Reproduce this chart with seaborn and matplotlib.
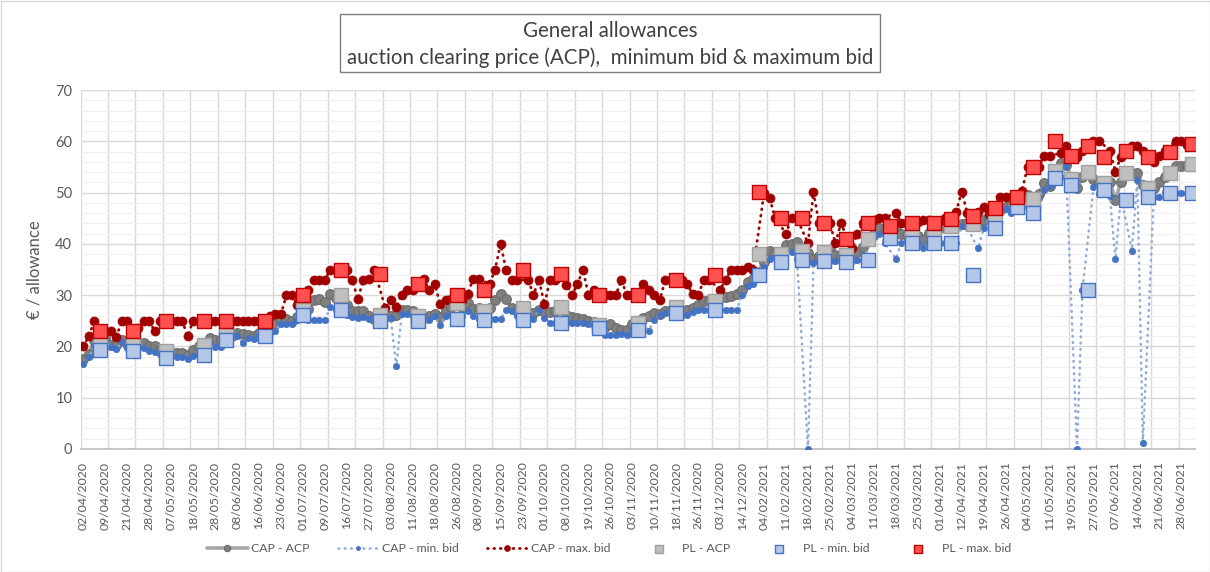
"""
General allowances: ACP, min and max bid (CAP and PL auctions)
"""
import numpy as np
import pandas as pd
import matplotlib.pyplot as plt
from matplotlib.patches import Rectangle
import seaborn as sns

na = np.nan

# one label every 4 auction days
tick_dates = ["02/04/2020", "09/04/2020", "21/04/2020", "28/04/2020", "07/05/2020", "18/05/2020",
              "28/05/2020", "08/06/2020", "16/06/2020", "23/06/2020", "01/07/2020", "09/07/2020",
              "16/07/2020", "27/07/2020", "03/08/2020", "11/08/2020", "18/08/2020", "26/08/2020",
              "08/09/2020", "15/09/2020", "23/09/2020", "01/10/2020", "08/10/2020", "19/10/2020",
              "26/10/2020", "03/11/2020", "10/11/2020", "18/11/2020", "26/11/2020", "03/12/2020",
              "14/12/2020", "04/02/2021", "11/02/2021", "18/02/2021", "25/02/2021", "04/03/2021",
              "11/03/2021", "18/03/2021", "25/03/2021", "01/04/2021", "12/04/2021", "19/04/2021",
              "26/04/2021", "04/05/2021", "11/05/2021", "19/05/2021", "27/05/2021", "07/06/2021",
              "14/06/2021", "21/06/2021", "28/06/2021"]

# CAP auctions (na on days with only a PL auction)
cap_acp = [17.5, 18.6, 21.3, na, 21.6, 20.3, 20.3, 21.3, 20.5, na,
           20.5, 20.6, 20.1, 20.0, 19.4, na, 19.0, 18.8, 18.8, 18.4,
           19.4, 20.1, na, 21.6, 21.2, 21.3, na, 22.0, 22.7, 22.5,
           22.3, 22.0, 22.7, na, 23.6, 24.4, 24.9, 25.3, 24.9, 25.8,
           na, 27.3, 29.0, 29.3, 28.6, 30.2, 29.4, na, 28.1, 26.9,
           27.0, 27.0, 25.9, 25.4, na, 25.7, 26.0, 26.1, 27.2, 27.1,
           27.0, na, 25.5, 26.0, 26.3, 25.8, 27.0, 27.6, na, 27.6,
           28.4, 27.3, 27.4, na, 27.5, 29.0, 30.3, 29.2, 27.5, 27.0,
           na, 26.8, 26.5, 27.2, 27.0, 26.8, 27.0, na, 26.1, 25.7,
           25.5, 25.3, 25.0, 24.7, na, 23.8, 24.4, 23.6, 23.2, 23.2,
           24.4, na, 25.5, 26.0, 26.6, 26.3, 26.9, 27.2, na, 27.2,
           27.1, 27.4, 28.1, 28.8, 29.0, na, 29.4, 29.6, 29.8, 30.3,
           31.1, 32.6, 33.2, na, 36.5, 38.6, 38.2, na, 39.7, 40.0,
           40.4, na, 38.2, 37.1, 37.6, na, 38.8, 37.8, 37.6, na,
           37.5, 38.4, 39.4, na, 42.0, 43.0, 42.3, na, 42.7, 41.9,
           41.7, na, 41.5, 40.8, 42.2, na, 43.0, 43.2, na, 43.5,
           43.9, 44.0, na, 44.3, 44.7, 45.3, na, 46.6, 47.1, 47.4,
           na, 49.1, 49.5, na, 49.7, 51.9, 51.2, na, 55.7, 55.4,
           na, 50.8, 53.1, na, 52.6, 52.1, na, 52.1, 48.6, 52.1,
           na, 53.8, 53.8, 51.5, na, 50.8, 52.1, 53.1, na, 55.1,
           55.2, 55.4, na]

cap_min = [16.6, 17.9, 20.0, na, 21.0, 19.9, 19.5, 20.8, 19.7, na,
           19.7, 19.7, 19.2, 18.9, 18.6, na, 18.2, 18.0, 18.0, 17.6,
           18.2, 18.4, na, 20.8, 19.9, 19.9, na, 22.2, 22.0, 20.7,
           21.7, 21.5, 22.2, na, 22.6, 23.1, 24.3, 24.3, 24.3, 25.1,
           na, 25.1, 25.1, 25.1, 25.1, 27.7, 27.1, na, 26.1, 25.8,
           25.6, 25.8, 25.3, 25.6, na, 25.6, 25.6, 16.1, 26.3, 26.3,
           25.9, na, 25.9, 25.1, 25.9, 24.1, 25.9, 26.2, na, 25.9,
           26.9, 26.0, 25.4, na, 25.3, 25.3, 25.3, 27.2, 26.9, 25.9,
           na, 25.9, 25.4, 27.2, 25.6, 24.6, 24.6, na, 24.5, 24.6,
           24.5, 24.5, 24.3, 24.0, na, 22.2, 22.2, 22.2, 22.4, 22.2,
           23.3, na, 24.7, 23.1, 25.2, 26.2, 26.5, 26.8, na, 26.2,
           26.2, 26.8, 27.1, 27.1, 27.1, na, 27.1, 27.1, 27.1, 27.1,
           30.1, 31.7, 32.2, na, 35.5, 37.1, 37.5, na, 38.8, 38.4,
           37.1, na, 0.0, 36.2, 36.5, na, 36.6, 36.6, 36.6, na,
           36.6, 36.8, 36.8, na, 41.4, 42.0, 40.1, na, 37.1, 40.2,
           40.7, na, 40.2, 39.1, 40.1, na, 40.1, 40.1, na, 40.1,
           43.4, 43.2, na, 39.1, 43.0, 45.0, na, 46.7, 46.7, 46.0,
           na, 47.1, 48.6, na, 48.9, 50.5, 51.2, na, 53.1, 55.1,
           na, 0.0, 31.0, na, 51.0, 49.7, na, 49.3, 37.0, 49.3,
           na, 38.7, 52.5, 1.2, na, 49.1, 49.1, 50.2, na, 50.0,
           50.0, 50.0, na]

cap_max = [20.0, 22.0, 25.0, na, 23.0, 23.0, 21.8, 25.0, 25.0, na,
           23.5, 25.0, 25.0, 23.0, 25.0, na, 25.0, 25.0, 25.0, 22.0,
           25.0, 25.0, na, 25.0, 25.0, 25.0, na, 25.0, 25.0, 25.0,
           25.0, 25.0, 25.0, na, 26.0, 26.3, 26.3, 30.0, 30.0, 28.1,
           na, 31.0, 33.0, 33.0, 33.0, 35.0, 35.0, na, 35.0, 33.0,
           29.2, 33.0, 33.1, 35.0, na, 27.5, 29.1, 27.7, 30.1, 31.0,
           31.0, na, 33.1, 31.0, 32.2, 28.2, 29.1, 29.2, na, 29.0,
           30.3, 33.1, 33.1, na, 32.2, 35.0, 40.0, 35.0, 33.0, 33.0,
           na, 33.0, 30.1, 33.0, 28.2, 33.0, 33.0, na, 32.0, 30.1,
           32.1, 35.0, 30.1, 31.0, na, 30.0, 30.0, 30.0, 33.0, 30.0,
           30.0, na, 32.1, 31.0, 30.0, 29.0, 33.0, 33.0, na, 32.9,
           32.1, 30.2, 30.0, 32.9, 32.9, na, 31.1, 33.0, 35.0, 35.0,
           35.0, 35.5, 35.0, na, 49.9, 49.0, 45.1, na, 42.0, 45.1,
           45.0, na, 40.1, 50.1, 44.0, na, 44.0, 40.1, 44.0, na,
           39.1, 42.0, 44.1, na, 44.6, 45.1, 45.1, na, 46.0, 44.1,
           44.1, na, 44.3, 44.7, 44.7, na, 44.5, 45.0, na, 46.3,
           50.2, 46.1, na, 46.3, 47.1, 45.8, na, 49.1, 49.1, 49.1,
           na, 50.4, 55.0, na, 55.0, 57.1, 57.1, na, 57.7, 59.1,
           na, 57.0, 58.2, na, 60.1, 60.1, na, 58.2, 54.1, 57.0,
           na, 59.1, 59.0, 58.2, na, 56.0, 57.1, 58.2, na, 60.1,
           60.1, 59.3, na]

# PL auctions: auction-day position and prices
pl_day = [3, 9, 15, 22, 26, 33, 40, 47, 54, 61, 68, 73, 80, 87, 94, 101, 108, 115, 123, 127,
          131, 135, 139, 143, 147, 151, 155, 158, 162, 166, 170, 173, 177, 180, 183, 186, 190, 194, 198, 202]
pl_acp = [20.5, 20.3, 19.2, 20.2, 22.3, 22.9, 27.1, 30.0, 26.2, 25.9, 28.5, 26.9, 27.5, 27.7, 24.1,
          24.6, 27.7, 28.9, 38.0, 38.0, 38.6, 38.4, 37.8, 41.0, 41.5, 41.5, 42.2, 43.5, 43.9, 45.0,
          47.3, 48.7, 54.3, 52.6, 54.1, 51.8, 53.8, 50.8, 53.8, 55.6]
pl_min = [19.3, 19.2, 17.7, 18.3, 21.3, 22.1, 26.1, 27.1, 24.9, 24.9, 25.4, 25.1, 25.1, 24.6, 23.5,
          23.2, 26.6, 27.1, 34.0, 36.5, 36.9, 36.6, 36.5, 36.9, 41.2, 40.2, 40.1, 40.1, 33.9, 43.0,
          47.1, 46.1, 52.8, 51.5, 31.0, 50.5, 48.6, 49.1, 50.0, 50.0]
pl_max = [23.0, 23.0, 25.0, 25.0, 25.0, 25.0, 30.0, 35.0, 34.1, 32.1, 30.1, 31.0, 35.0, 34.1, 30.1,
          30.1, 32.9, 34.0, 50.1, 45.1, 45.1, 44.0, 41.0, 44.1, 43.4, 44.1, 44.0, 44.8, 45.5, 46.9,
          49.2, 55.0, 60.1, 57.1, 59.1, 57.0, 58.1, 57.0, 58.0, 59.5]

cap = pd.DataFrame({"day": np.arange(len(cap_acp)), "acp": cap_acp, "min": cap_min, "max": cap_max})
pl = pd.DataFrame({"day": pl_day, "acp": pl_acp, "min": pl_min, "max": pl_max})

sns.set_theme(style="white")
plt.rcParams['font.family'] = ['Lato', 'DejaVu Sans']

W, H = 1210, 572
fig = plt.figure(figsize=(W / 100, H / 100), dpi=100)
ax = fig.add_axes([80.6 / W, 1 - 449 / H, (1195 - 80.6) / W, (449 - 90) / H])
ax.set_axisbelow(True)

line_kw = dict(ax=ax, x="day", sort=False, estimator=None)
sns.lineplot(data=cap.dropna(subset=["acp"]), y="acp", color="#a6a6a6", lw=2.6, marker="o", ms=7,
             mfc="#7f7f7f", mec="#6b6b6b", mew=0.8, label="CAP - ACP", zorder=3, **line_kw)
sns.lineplot(data=cap.dropna(subset=["min"]), y="min", color="#8faadc", lw=1.8, ls=(0, (0.3, 2.2)),
             dash_capstyle="round", marker="o", ms=4.6, mfc="#4472c4", mec="#4472c4", mew=0.5,
             label="CAP - min. bid", zorder=4, **line_kw)
sns.lineplot(data=cap.dropna(subset=["max"]), y="max", color="#a00000", lw=2.0, ls=(0, (0.3, 2.0)),
             dash_capstyle="round", marker="o", ms=6.5, mfc="#a00000", mec="#a00000", mew=0.5,
             label="CAP - max. bid", zorder=5, **line_kw)

sq_kw = dict(ax=ax, x="day", marker="s", s=88, linewidth=1.0)
sns.scatterplot(data=pl, y="acp", color="#bfbfbf", edgecolor="#a0a0a0", label="PL - ACP", zorder=6, **sq_kw)
sns.scatterplot(data=pl, y="min", color="#b4c7e7", edgecolor="#4472c4", label="PL - min. bid", zorder=7, **sq_kw)
sns.scatterplot(data=pl, y="max", color="#ff5050", edgecolor="#c00000", label="PL - max. bid", zorder=8, **sq_kw)

ax.set_xlim(-0.5, len(cap_acp) - 0.5)
ax.set_ylim(0, 70)
ax.set_yticks(range(0, 71, 10))
ax.set_yticks(np.arange(0, 71, 2), minor=True)
ax.set_xticks(np.arange(0, 4 * len(tick_dates), 4))
ax.set_xticklabels(tick_dates, rotation=90)
ax.set_xticks(np.arange(-0.5, len(cap_acp), 5), minor=True)
ax.grid(axis="y", which="major", color="#d9d9d9", lw=1)
ax.grid(axis="y", which="minor", color="#f0f0f0", lw=0.8)
ax.grid(axis="x", which="minor", color="#d9d9d9", lw=1)
ax.tick_params(axis="x", which="major", length=0, pad=9, labelsize=8.8, labelcolor="#595959")
ax.tick_params(axis="x", which="minor", length=5, width=1, color="#bfbfbf", direction="out")
ax.tick_params(axis="y", which="both", length=0, pad=6, labelsize=10.5, labelcolor="#595959")
for s in ["top", "right", "left"]:
    ax.spines[s].set_visible(False)
ax.spines["bottom"].set_color("#bfbfbf")
ax.set_xlabel("")
ax.set_ylabel("€ / allowance", fontsize=12, color="#595959", labelpad=9)

handles, labels = ax.get_legend_handles_labels()
ax.get_legend().remove()
fig.legend(handles, labels, loc="center", bbox_to_anchor=(609 / W, 1 - 549 / H), ncol=6, frameon=False,
           fontsize=8.8, labelcolor="#595959", handlelength=3.3, handletextpad=0.3,
           columnspacing=2.3, numpoints=1, scatterpoints=1, markerscale=0.65)

# title box
fig.add_artist(Rectangle((340 / W, 1 - 72 / H), 540 / W, 58 / H, transform=fig.transFigure,
                         facecolor="white", edgecolor="#7f7f7f", lw=1))
fig.text(610 / W, 1 - 31 / H, "General allowances", ha="center", va="center", fontsize=14.8, color="#404040")
fig.text(610 / W, 1 - 58 / H, "auction clearing price (ACP),  minimum bid & maximum bid",
         ha="center", va="center", fontsize=14.8, color="#404040")
# chart border
fig.add_artist(Rectangle((0.5 / W, 0.5 / H), (W - 1) / W, (H - 1) / H, transform=fig.transFigure,
                         fill=False, edgecolor="#d9d9d9", lw=1))

fig.savefig("out.png", dpi=100)
